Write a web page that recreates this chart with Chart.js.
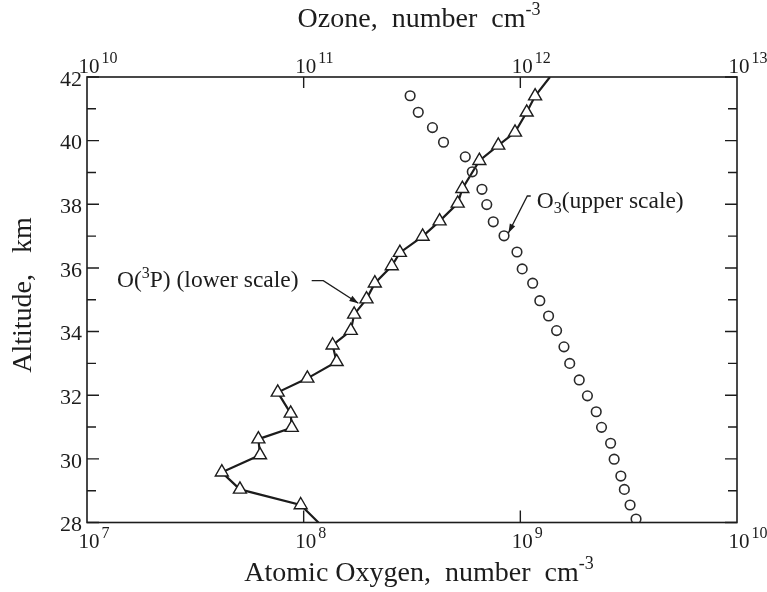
<!DOCTYPE html>
<html lang="en">
<head>
<meta charset="UTF-8">
<title>Atomic oxygen and ozone profiles</title>
<script src="https://cdn.jsdelivr.net/npm/chart.js"></script>
<style>
    body { margin: 0; background: #fff; }
    canvas { display: block; }
</style>
</head>
<body>
<canvas id="profileChart" width="767" height="592"></canvas>
<script>
// O(3P), lower scale. First and last entries are where the line runs out of the frame.
const atomAlt = [42.0, 41.40, 40.89, 40.26, 39.85, 39.37, 38.49, 38.03, 37.47, 36.99, 36.48,
    36.06, 35.52, 35.02, 34.54, 34.03, 33.57, 33.05, 32.53, 32.09, 31.43, 30.98, 30.62,
    30.12, 29.58, 29.04, 28.55, 28.0];
const atomDens = [1.37e9, 1.17e9, 1.07e9, 9.45e8, 7.91e8, 6.47e8, 5.40e8, 5.14e8, 4.24e8, 3.54e8, 2.78e8,
    2.55e8, 2.13e8, 1.95e8, 1.71e8, 1.65e8, 1.36e8, 1.42e8, 1.04e8, 7.59e7, 8.71e7, 8.81e7, 6.18e7,
    6.29e7, 4.19e7, 5.08e7, 9.69e7, 1.17e8];

// O3, upper scale
const ozoneAlt = [41.41, 40.89, 40.41, 39.95, 39.49, 39.02, 38.47, 37.99, 37.45, 37.01, 36.50,
    35.97, 35.52, 34.97, 34.49, 34.03, 33.52, 33.00, 32.48, 31.98, 31.48, 30.99, 30.49,
    29.99, 29.46, 29.04, 28.55, 28.11];
const ozoneDens = [3.10e11, 3.38e11, 3.93e11, 4.42e11, 5.57e11, 6.00e11, 6.65e11, 7.00e11, 7.50e11, 8.41e11, 9.65e11,
    1.02e12, 1.14e12, 1.23e12, 1.35e12, 1.47e12, 1.59e12, 1.69e12, 1.87e12, 2.04e12, 2.24e12, 2.37e12, 2.61e12,
    2.71e12, 2.91e12, 3.02e12, 3.21e12, 3.42e12];

// axes
const altTicks = [28, 29, 30, 31, 32, 33, 34, 35, 36, 37, 38, 39, 40, 41, 42];
const altLabels = [28, 30, 32, 34, 36, 38, 40, 42];
const lowerTicks = [1e7, 1e8, 1e9, 1e10];
const lowerExp = ['7', '8', '9', '10'];
const upperTicks = [1e10, 1e11, 1e12, 1e13];
const upperExp = ['10', '11', '12', '13'];

const serif = '"Liberation Serif", "Times New Roman", serif';
const ink = '#1c1c1c';

// draw a run of text pieces (base / sup / sub) one after the other
function drawRuns(ctx, runs, x, y, align) {
    let total = 0;
    runs.forEach(r => {
        ctx.font = r.size + 'px ' + serif;
        r.w = ctx.measureText(r.t).width;
        total += r.w;
    });
    let cx = align === 'center' ? x - total / 2 : x;
    ctx.textAlign = 'left';
    runs.forEach(r => {
        ctx.font = r.size + 'px ' + serif;
        ctx.fillText(r.t, cx, y + (r.dy || 0));
        cx += r.w;
    });
}

function decadeLabel(ctx, exp, x, y) {
    ctx.font = '21px ' + serif;
    ctx.textAlign = 'center';
    ctx.fillText('10', x, y);
    const w = ctx.measureText('10').width;
    ctx.font = '16px ' + serif;
    ctx.textAlign = 'left';
    ctx.fillText(exp, x + w / 2 + 2, y - 10);
}

function leader(ctx, pts) {
    ctx.beginPath();
    ctx.moveTo(pts[0][0], pts[0][1]);
    for (let i = 1; i < pts.length; i++) ctx.lineTo(pts[i][0], pts[i][1]);
    ctx.stroke();
    const [x1, y1] = pts[pts.length - 2];
    const [x2, y2] = pts[pts.length - 1];
    const a = Math.atan2(y2 - y1, x2 - x1);
    const len = 9, half = 3;
    ctx.beginPath();
    ctx.moveTo(x2, y2);
    ctx.lineTo(x2 - len * Math.cos(a) + half * Math.sin(a), y2 - len * Math.sin(a) - half * Math.cos(a));
    ctx.lineTo(x2 - len * Math.cos(a) - half * Math.sin(a), y2 - len * Math.sin(a) + half * Math.cos(a));
    ctx.closePath();
    ctx.fill();
}

// frame, inward ticks, tick labels, titles and the two notes
const decorations = {
    id: 'decorations',
    afterDraw(chart) {
        const ctx = chart.ctx;
        const area = chart.chartArea;
        const x = chart.scales.x, x2 = chart.scales.x2, y = chart.scales.y;
        ctx.save();
        ctx.strokeStyle = ink;
        ctx.fillStyle = ink;
        ctx.lineWidth = 1.6;
        ctx.strokeRect(area.left, area.top, area.right - area.left, area.bottom - area.top);

        ctx.lineWidth = 1.4;
        ctx.beginPath();
        altTicks.forEach(v => {
            const py = y.getPixelForValue(v);
            const len = v % 2 === 0 ? 12 : 9;
            ctx.moveTo(area.left, py); ctx.lineTo(area.left + len, py);
            ctx.moveTo(area.right, py); ctx.lineTo(area.right - len, py);
        });
        lowerTicks.slice(1, -1).forEach(v => {
            const px = x.getPixelForValue(v);
            ctx.moveTo(px, area.bottom); ctx.lineTo(px, area.bottom - 12);
        });
        upperTicks.slice(1, -1).forEach(v => {
            const px = x2.getPixelForValue(v);
            ctx.moveTo(px, area.top); ctx.lineTo(px, area.top + 11);
        });
        ctx.stroke();

        ctx.textBaseline = 'middle';
        ctx.textAlign = 'right';
        ctx.font = '22px ' + serif;
        altLabels.forEach(v => {
            ctx.fillText(String(v), area.left - 5, y.getPixelForValue(v) + 3);
        });

        ctx.textBaseline = 'alphabetic';
        lowerTicks.forEach((v, i) => decadeLabel(ctx, lowerExp[i], x.getPixelForValue(v) + 2, area.bottom + 25));
        upperTicks.forEach((v, i) => decadeLabel(ctx, upperExp[i], x2.getPixelForValue(v) + 2, area.top - 4));

        const mid = (area.left + area.right) / 2 + 7;
        drawRuns(ctx, [{ t: 'Atomic Oxygen,  number  cm', size: 28 }, { t: '-3', size: 18, dy: -12 }],
            mid, 581, 'center');
        drawRuns(ctx, [{ t: 'Ozone,  number  cm', size: 28 }, { t: '-3', size: 18, dy: -12 }],
            mid, 27, 'center');

        ctx.save();
        ctx.translate(24, 295);
        ctx.rotate(-Math.PI / 2);
        ctx.textBaseline = 'middle';
        drawRuns(ctx, [{ t: 'Altitude,   km', size: 28 }], 0, 0, 'center');
        ctx.restore();

        // O(3P) note, placed in lower-scale units
        drawRuns(ctx, [{ t: 'O(', size: 23.5 }, { t: '3', size: 16, dy: -9 }, { t: 'P) (lower scale)', size: 23.5 }],
            x.getPixelForValue(1.375e7), y.getPixelForValue(35.40), 'left');
        ctx.lineWidth = 1.3;
        leader(ctx, [
            [x.getPixelForValue(1.089e8), y.getPixelForValue(35.60)],
            [x.getPixelForValue(1.232e8), y.getPixelForValue(35.60)],
            [x.getPixelForValue(1.788e8), y.getPixelForValue(34.89)]
        ]);

        // O3 note, placed in upper-scale units
        drawRuns(ctx, [{ t: 'O', size: 23.5 }, { t: '3', size: 16, dy: 5 }, { t: '(upper scale)', size: 23.5 }],
            x2.getPixelForValue(1.19e12), y.getPixelForValue(37.88), 'left');
        leader(ctx, [
            [x2.getPixelForValue(1.117e12), y.getPixelForValue(38.26)],
            [x2.getPixelForValue(1.077e12), y.getPixelForValue(38.26)],
            [x2.getPixelForValue(8.81e11), y.getPixelForValue(37.10)]
        ]);
        ctx.restore();
    }
};

const hidden = { ticks: { display: false }, grid: { display: false }, border: { display: false } };
const lastAtom = atomAlt.length - 1;

new Chart(document.getElementById('profileChart').getContext('2d'), {
    type: 'scatter',
    data: {
        datasets: [
            {
                label: 'O3 (upper scale)',
                data: ozoneAlt.map((a, i) => ({ x: ozoneDens[i], y: a })),
                xAxisID: 'x2',
                yAxisID: 'y',
                showLine: false,
                pointStyle: 'circle',
                pointRadius: 4.8,
                pointBackgroundColor: 'rgba(255,255,255,0)',
                pointBorderColor: '#2a2a2a',
                pointBorderWidth: 1.6
            },
            {
                label: 'O(3P) (lower scale)',
                data: atomAlt.map((a, i) => ({ x: atomDens[i], y: a })),
                xAxisID: 'x',
                yAxisID: 'y',
                showLine: true,
                borderColor: ink,
                borderWidth: 2.2,
                pointStyle: 'triangle',
                pointRadius: c => (c.dataIndex === 0 || c.dataIndex === lastAtom) ? 0 : 7.5,
                pointBackgroundColor: '#fff',
                pointBorderColor: ink,
                pointBorderWidth: 1.4
            }
        ]
    },
    options: {
        responsive: false,
        animation: false,
        layout: { padding: 0 },
        plugins: { legend: { display: false }, tooltip: { enabled: false } },
        scales: {
            x: Object.assign({ type: 'logarithmic', position: 'bottom', min: 1e7, max: 1e10,
                afterFit: s => { s.height = 69.5; } }, hidden),
            x2: Object.assign({ type: 'logarithmic', position: 'top', min: 1e10, max: 1e13,
                afterFit: s => { s.height = 77; } }, hidden),
            y: Object.assign({ type: 'linear', position: 'left', min: 28, max: 42,
                afterFit: s => { s.width = 87; } }, hidden),
            y2: Object.assign({ type: 'linear', position: 'right', min: 28, max: 42,
                afterFit: s => { s.width = 30; } }, hidden)
        }
    },
    plugins: [decorations]
});
</script>
</body>
</html>
